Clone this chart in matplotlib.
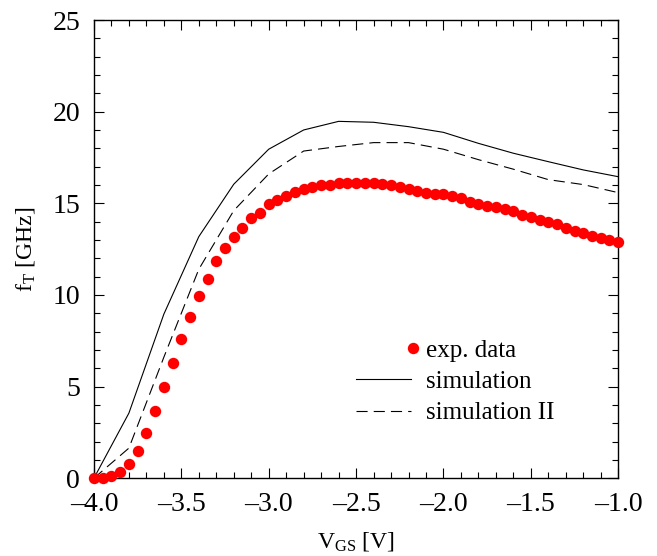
import matplotlib
matplotlib.use("Agg")
import matplotlib.pyplot as plt
from matplotlib.legend_handler import HandlerLine2D
from matplotlib.ticker import MultipleLocator

plt.rcParams["font.family"] = ["Liberation Serif", "DejaVu Serif"]
plt.rcParams["mathtext.fontset"] = "custom"
plt.rcParams["mathtext.rm"] = "Liberation Serif"
plt.rcParams["mathtext.it"] = "Liberation Serif:italic"

# measured cut-off frequency vs gate voltage (0.05 V steps)
vgs_exp = [-4.00, -3.95, -3.90, -3.85, -3.80, -3.75, -3.70, -3.65, -3.60, -3.55,
           -3.50, -3.45, -3.40, -3.35, -3.30, -3.25, -3.20, -3.15, -3.10, -3.05,
           -3.00, -2.95, -2.90, -2.85, -2.80, -2.75, -2.70, -2.65, -2.60, -2.55,
           -2.50, -2.45, -2.40, -2.35, -2.30, -2.25, -2.20, -2.15, -2.10, -2.05,
           -2.00, -1.95, -1.90, -1.85, -1.80, -1.75, -1.70, -1.65, -1.60, -1.55,
           -1.50, -1.45, -1.40, -1.35, -1.30, -1.25, -1.20, -1.15, -1.10, -1.05,
           -1.00]
ft_exp = [0.0, 0.0, 0.13, 0.33, 0.76, 1.49, 2.49, 3.65, 4.96, 6.27,
          7.60, 8.82, 9.95, 10.85, 11.87, 12.58, 13.18, 13.67, 14.18, 14.45,
          14.98, 15.18, 15.38, 15.60, 15.80, 15.89, 15.98, 16.02, 16.09, 16.09,
          16.09, 16.09, 16.09, 16.04, 15.98, 15.87, 15.80, 15.69, 15.58, 15.49,
          15.49, 15.38, 15.29, 15.07, 14.98, 14.87, 14.78, 14.67, 14.56, 14.36,
          14.25, 14.09, 13.98, 13.87, 13.67, 13.47, 13.38, 13.22, 13.11, 13.00,
          12.89]

# simulated curves (0.2 V steps)
vgs_sim = [-4.0, -3.8, -3.6, -3.4, -3.2, -3.0, -2.8, -2.6,
           -2.4, -2.2, -2.0, -1.8, -1.6, -1.4, -1.2, -1.0]
ft_sim = [0.0, 3.55, 8.95, 13.18, 16.04, 17.95, 19.0, 19.47,
          19.42, 19.18, 18.87, 18.27, 17.73, 17.27, 16.82, 16.45]
ft_sim2 = [0.0, 1.64, 6.6, 11.4, 14.6, 16.6, 17.85, 18.1,
           18.31, 18.31, 17.95, 17.38, 16.86, 16.29, 16.02, 15.58]


class RightMarkerHandler(HandlerLine2D):
    # single legend marker sits at the right end of the handle
    def get_xdata(self, legend, xdescent, ydescent, width, height, fontsize):
        c = -xdescent + width + 0.08 * fontsize
        return [c - 1, c + 1], [c]


fig = plt.figure(figsize=(6.57, 5.56), dpi=100)
ax = fig.add_axes([0.143, 0.140, 0.798, 0.824])

ax.plot(vgs_sim, ft_sim, color="black", lw=0.8, label="simulation")
ax.plot(vgs_sim, ft_sim2, color="black", lw=0.8, dashes=(10, 5.5),
        label="simulation II")
dots, = ax.plot(vgs_exp, ft_exp, "o", color="#ff0000", ms=8.2, mec="none",
                clip_on=False, zorder=3, label="exp. data")

ax.set_xlim(-4.0, -1.0)
ax.set_ylim(0, 25)
ax.xaxis.set_major_locator(MultipleLocator(0.5))
ax.xaxis.set_minor_locator(MultipleLocator(0.1))
ax.yaxis.set_major_locator(MultipleLocator(5))
ax.yaxis.set_minor_locator(MultipleLocator(1))
ax.xaxis.set_major_formatter(lambda v, p: f"{v:.1f}".replace("-", "\u2013"))
ax.tick_params(which="both", direction="in", top=True, right=True,
               width=0.8, labelsize=20, pad=10)
ax.tick_params(which="major", length=7)
ax.tick_params(which="minor", length=4)
for s in ax.spines.values():
    s.set_linewidth(1.0)

ax.set_xlabel(r"V$_{\mathrm{GS}}$ [V]", fontsize=17, labelpad=9)
ax.set_ylabel(r"f$_{\mathrm{T}}$ [GHz]", fontsize=17, labelpad=11)

handles, labels = ax.get_legend_handles_labels()
order = [2, 0, 1]
ax.legend([handles[i] for i in order], [labels[i] for i in order],
          loc="center", bbox_to_anchor=(0.69, 0.21), frameon=False,
          fontsize=18, numpoints=1, handlelength=2.2, handletextpad=0.6,
          labelspacing=0.35, borderpad=0,
          handler_map={dots: RightMarkerHandler()})

fig.savefig("out.png", dpi=100)
